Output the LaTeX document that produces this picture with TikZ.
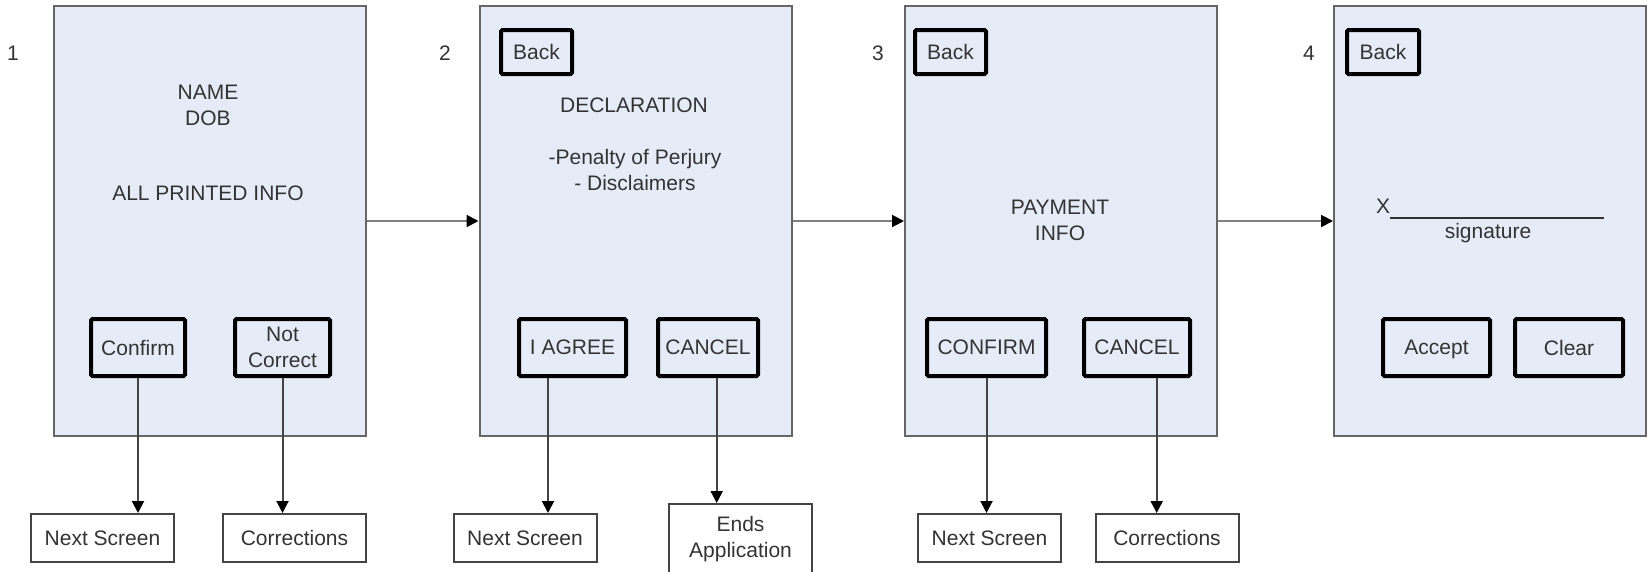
\documentclass[tikz,border=0pt]{standalone}
\usepackage{fontspec}
\setmainfont{Liberation Sans}
\usetikzlibrary{arrows.meta}

\definecolor{screenfill}{HTML}{E6ECF7}
\definecolor{screenedge}{HTML}{666666}
\definecolor{ink}{HTML}{333333}
\definecolor{flowline}{HTML}{808080}
\definecolor{dropline}{HTML}{444444}

\begin{document}
\begin{tikzpicture}[x=1pt,y=-1pt,
  every node/.style={font=\fontsize{21pt}{26pt}\selectfont, text=ink, inner sep=0pt},
  screen/.style={draw=screenedge, line width=2pt, fill=screenfill,
                 minimum width=312pt, minimum height=430pt},
  button/.style={draw=black, line width=4pt, fill=screenfill,
                 rounded corners=1.5pt, align=center, minimum height=57pt},
  backbtn/.style={button, minimum height=44pt},
  outcome/.style={draw=dropline, line width=2pt, fill=white,
                  minimum width=143pt, minimum height=48pt, align=center},
  caption/.style={align=center},
  arrowtip/.style={-{Triangle[length=12pt,width=12pt,color=black]}},
  flow/.style={draw=flowline, line width=2pt, arrowtip},
  drop/.style={draw=dropline, line width=2pt, arrowtip},
  sigline/.style={draw=ink, line width=1.5pt},
]
\useasboundingbox (0,0) rectangle (1648,571);

% ---- the four screens ----
\node[screen] (s1) at (210,221) {};
\node[screen] (s2) at (635.5,221) {};
\node[screen] (s3) at (1061,221) {};
\node[screen] (s4) at (1490,221) {};

% step numbers
\node (n1) at (13,53) {1};
\node (n2) at (445,53) {2};
\node (n3) at (878,53) {3};
\node (n4) at (1309,53) {4};

% ---- screen 1: personal details ----
\node[caption] (t1a) at (208,105) {NAME\\DOB};
\node[caption] (t1b) at (208,193) {ALL PRINTED INFO};
\node[button, minimum width=94pt] (confirm1) at (138,347.5) {Confirm};
\node[button, minimum width=95pt] (notcorr1) at (282.5,347.5) {Not\\Correct};

% ---- screen 2: declaration ----
\node[backbtn, minimum width=71pt] (back2) at (536.5,52) {Back};
\node[caption] (t2a) at (634,105) {DECLARATION};
\node[caption] (t2b) at (635,170) {-Penalty of Perjury\\- Disclaimers};
\node[button, minimum width=107pt] (agree2) at (572.5,347.5) {I AGREE};
\node[button, minimum width=100pt] (cancel2) at (708,347.5) {CANCEL};

% ---- screen 3: payment ----
\node[backbtn, minimum width=71pt] (back3) at (950.5,52) {Back};
\node[caption] (t3a) at (1060,220) {PAYMENT\\INFO};
\node[button, minimum width=119pt] (confirm3) at (986.5,347.5) {CONFIRM};
\node[button, minimum width=106pt] (cancel3) at (1137,347.5) {CANCEL};

% ---- screen 4: signature ----
\node[backbtn, minimum width=72pt] (back4) at (1383,52) {Back};
\node (xmark) at (1383,206) {X};
\coordinate (sigend) at (1604,218);
\draw[sigline] (xmark.east |- sigend) -- (sigend);
\node[anchor=base] (sig) at (1488,238) {signature};
\node[button, minimum width=107pt, text depth=0pt] (accept4) at (1436.5,347.5) {Accept};
\node[button, minimum width=108pt] (clear4) at (1569,347.5) {Clear};

% ---- outcomes below the screens ----
\node[outcome] (ns1) at (102.5,538) {Next Screen};
\node[outcome] (corr1) at (294.5,538) {Corrections};
\node[outcome] (ns2) at (525,538) {Next Screen};
\node[outcome, minimum height=70pt] (ends2) at (740.5,539) {Ends\\Application};
\node[outcome] (ns3) at (989.5,538) {Next Screen};
\node[outcome] (corr3) at (1167,538) {Corrections};

% ---- screen-to-screen flow ----
\draw[flow] (s1.east) -- (s2.west);
\draw[flow] (s2.east) -- (s3.west);
\draw[flow] (s3.east) -- (s4.west);

% ---- button outcomes ----
\draw[drop] (confirm1.south) -- (confirm1.south |- ns1.north);
\draw[drop] (notcorr1.south) -- (notcorr1.south |- corr1.north);
\draw[drop] ([xshift=-24.5pt]agree2.south) -- ([xshift=-24.5pt]agree2.south |- ns2.north);
\draw[drop] ([xshift=8.7pt]cancel2.south) -- ([xshift=8.7pt]cancel2.south |- ends2.north);
\draw[drop] (confirm3.south) -- (confirm3.south |- ns3.north);
\draw[drop] ([xshift=19.7pt]cancel3.south) -- ([xshift=19.7pt]cancel3.south |- corr3.north);
\end{tikzpicture}
\end{document}
